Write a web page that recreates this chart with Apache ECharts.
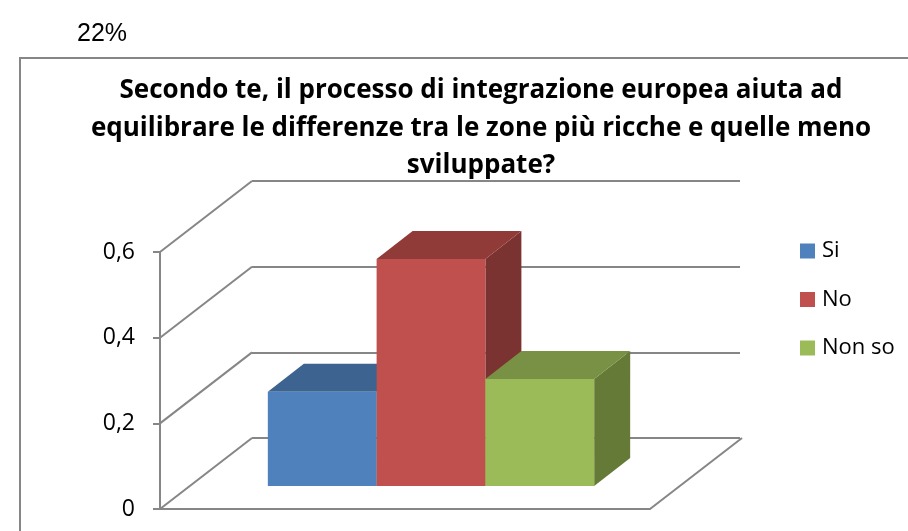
<!DOCTYPE html>
<html>
<head>
<meta charset="utf-8">
<script src="https://cdn.jsdelivr.net/npm/echarts@6/dist/echarts.min.js"></script>
<style>
  html, body { margin: 0; padding: 0; background: #fff; }
  #chart { width: 908px; height: 531px; }
</style>
</head>
<body>
<div id="chart"></div>
<script>
// data
var groups = [''];
var seriesNames = ['Si', 'No', 'Non so'];
var seriesValues = [0.22, 0.53, 0.25];
var yTicks = [0, 0.2, 0.4, 0.6];

// colours per series: front, top, side
var faceColors = [
    ['#4F81BD', '#3D6490', '#355A84'],
    ['#C0504D', '#913B39', '#7A3331'],
    ['#9BBB59', '#789144', '#657A37']
];

// oblique projection of the 3d box
var WALL = { dx: 92, dy: -71 };   // full depth of floor
var FRONT = { dx: 26, dy: -23 };  // where bar front faces stand
var DEPTH = { dx: 36, dy: -28 };  // depth of a bar
var BAR_RATIO = 0.222;
var GRID_COLOR = '#868686';
var FONT = 'Open Sans';

var chart = echarts.init(document.getElementById('chart'));

function boxRenderer(idx) {
    return function (params, api) {
        var base = api.coord([api.value(0), 0]);
        var top = api.coord([api.value(0), api.value(1)]);
        var w = api.size([1, 0])[0] * BAR_RATIO;
        var cx = base[0] + (idx - 1) * w;
        var x0 = cx - w / 2 + FRONT.dx, x1 = x0 + w;
        var yb = base[1] + FRONT.dy, yt = top[1] + FRONT.dy;
        var c = faceColors[idx];
        return {
            type: 'group',
            children: [
                { type: 'polygon', shape: { points: [[x1, yt], [x1 + DEPTH.dx, yt + DEPTH.dy], [x1 + DEPTH.dx, yb + DEPTH.dy], [x1, yb]] }, style: { fill: c[2] } },
                { type: 'polygon', shape: { points: [[x0, yt], [x1, yt], [x1 + DEPTH.dx, yt + DEPTH.dy], [x0 + DEPTH.dx, yt + DEPTH.dy]] }, style: { fill: c[1] } },
                { type: 'rect', shape: { x: x0, y: yt, width: w, height: yb - yt }, style: { fill: c[0] } }
            ]
        };
    };
}

function frameRenderer(params, api) {
    var cs = params.coordSys;
    var v = api.value(1);
    var y = api.coord([0, v])[1];
    var lineStyle = { stroke: GRID_COLOR, lineWidth: 2 };
    var children = [
        { type: 'line', shape: { x1: cs.x, y1: y, x2: cs.x + WALL.dx, y2: y + WALL.dy }, style: lineStyle }
    ];
    if (v === 0) {
        children.push({ type: 'line', shape: { x1: cs.x + cs.width, y1: y, x2: cs.x + cs.width + WALL.dx, y2: y + WALL.dy }, style: lineStyle });
    }
    return { type: 'group', children: children };
}

var series = [{
    type: 'custom',
    name: 'frame',
    xAxisIndex: 0,
    yAxisIndex: 0,
    z: 1,
    silent: true,
    renderItem: frameRenderer,
    data: yTicks.map(function (t) { return [0, t]; })
}];
seriesNames.forEach(function (name, i) {
    series.push({
        type: 'custom',
        name: name,
        xAxisIndex: 0,
        yAxisIndex: 0,
        z: 3,
        itemStyle: { color: faceColors[i][0] },
        renderItem: boxRenderer(i),
        data: [[0, seriesValues[i]]]
    });
});

var option = {
    animation: false,
    backgroundColor: '#fff',
    textStyle: { fontFamily: FONT },
    title: [{
        text: 'Secondo te, il processo di integrazione europea aiuta ad\nequilibrare le differenze tra le zone più ricche e quelle meno\nsviluppate?',
        left: 476,
        top: 67,
        textAlign: 'center',
        textStyle: { fontFamily: FONT, fontWeight: 'bold', fontSize: 26, lineHeight: 37.5, color: '#000' }
    }, {
        text: '22%',
        left: 72,
        top: 17,
        textStyle: { fontFamily: 'Liberation Sans', fontWeight: 'normal', fontSize: 25, color: '#000' }
    }],
    graphic: [{
        type: 'rect',
        shape: { x: 20, y: 58, width: 1000, height: 600 },
        style: { fill: 'none', stroke: GRID_COLOR, lineWidth: 2 },
        silent: true
    }],
    legend: {
        orient: 'vertical',
        left: 800,
        top: 239,
        padding: 0,
        icon: 'rect',
        itemWidth: 15,
        itemHeight: 15,
        itemGap: 24.5,
        data: seriesNames,
        textStyle: { fontFamily: FONT, fontSize: 22, lineHeight: 24, color: '#000', padding: [0, 0, 0, 2] }
    },
    grid: [
        { left: 160, top: 252, width: 490, height: 257 },
        { left: 160 + WALL.dx, top: 252 + WALL.dy, width: 488, height: 257 }
    ],
    xAxis: [{
        type: 'category',
        gridIndex: 0,
        data: groups,
        axisLine: { show: true, lineStyle: { color: GRID_COLOR, width: 2 } },
        axisTick: { show: false },
        axisLabel: { show: false },
        splitLine: { show: false }
    }, {
        type: 'category',
        gridIndex: 1,
        data: groups,
        show: false
    }],
    yAxis: [{
        type: 'value',
        gridIndex: 0,
        min: 0,
        max: 0.6,
        interval: 0.2,
        axisLine: { show: true, lineStyle: { color: GRID_COLOR, width: 2 } },
        axisTick: { show: true, length: 7, lineStyle: { color: GRID_COLOR, width: 2 } },
        axisLabel: {
            margin: 25,
            fontFamily: FONT,
            fontSize: 23,
            color: '#000',
            formatter: function (v) { return String(Math.round(v * 10) / 10).replace('.', ','); }
        },
        splitLine: { show: false }
    }, {
        type: 'value',
        gridIndex: 1,
        min: 0,
        max: 0.6,
        interval: 0.2,
        axisLine: { show: false },
        axisTick: { show: false },
        axisLabel: { show: false },
        splitLine: { show: true, lineStyle: { color: GRID_COLOR, width: 2 } }
    }],
    series: series
};

chart.setOption(option);
</script>
</body>
</html>
